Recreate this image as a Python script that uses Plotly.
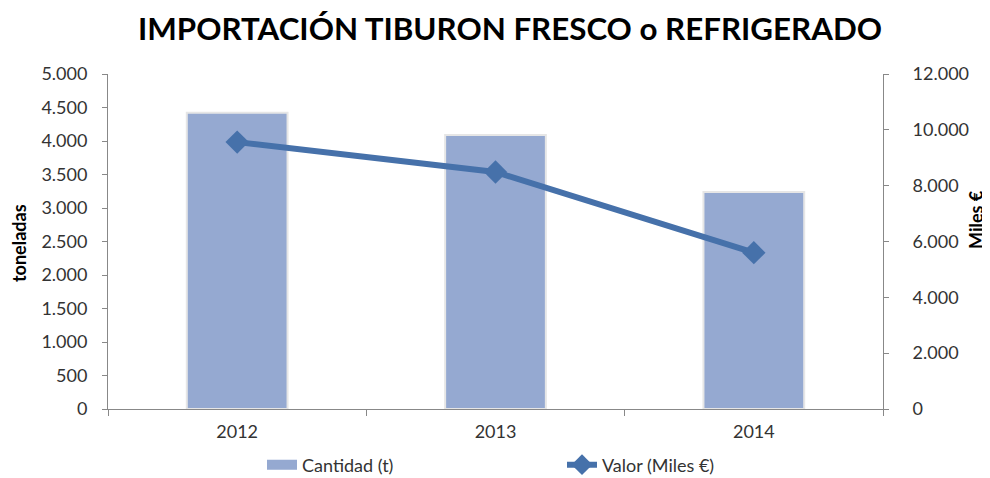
import plotly.graph_objects as go

years = ["2012", "2013", "2014"]
cantidad = [4420, 4090, 3240]
valor = [9560, 8490, 5600]
left_ticks = [0, 500, 1000, 1500, 2000, 2500, 3000, 3500, 4000, 4500, 5000]
right_ticks = [0, 2000, 4000, 6000, 8000, 10000, 12000]

FONT = "Lato"
TXT = "#333333"
OFF = 8  # page body margin
W, H = 990 - OFF, 478 - OFF
L = 108 - OFF
R = 990 - 883
PW = W - L - R


def px_x(x):
    return (x - OFF - L) / PW


def px_y(y):
    return (H - (y - OFF)) / H


BAR_COL = "#95A9D1"
LINE_COL = "#4671AA"

fig = go.Figure()
fig.add_trace(go.Bar(
    x=years, y=cantidad, name="Cantidad (t)", showlegend=False,
    marker=dict(color=BAR_COL, line=dict(color="#E6E6E6", width=2)),
    yaxis="y",
))
# legend entry for the bars (wide swatch like the reference)
fig.add_trace(go.Scatter(
    x=[None], y=[None], name="Cantidad (t)", mode="lines",
    line=dict(color=BAR_COL, width=10), yaxis="y",
))
fig.add_trace(go.Scatter(
    x=years, y=valor, name="Valor (Miles €)", mode="lines+markers",
    line=dict(color=LINE_COL, width=6),
    marker=dict(symbol="diamond", size=18, color=LINE_COL),
    yaxis="y2",
))

dom = [px_y(409), px_y(74)]
axcol = "#888888"
fig.update_layout(
    width=W, height=H,
    margin=dict(l=L, r=R, t=0, b=0, autoexpand=False),
    paper_bgcolor="white", plot_bgcolor="white",
    separators=",.",
    font=dict(family=FONT, size=18, color=TXT),
    title=dict(text="<b>IMPORTACIÓN TIBURON FRESCO o REFRIGERADO</b>",
               x=(510 - OFF) / W, xanchor="center", y=px_y(29), yanchor="middle",
               font=dict(family=FONT, size=31.3, color="black")),
    bargap=0.61,
    showlegend=True,
    legend=dict(orientation="h", x=px_x(262), xanchor="left", y=px_y(465), yanchor="middle",
                entrywidth=255, font=dict(size=18, color=TXT), traceorder="normal"),
    xaxis=dict(type="category", showline=True, linecolor=axcol, linewidth=1,
               ticks="outside", tickson="boundaries", ticklen=6, tickcolor=axcol,
               showgrid=False, automargin=False, ticklabelstandoff=6,
               tickfont=dict(size=18, color=TXT)),
    yaxis=dict(domain=dom, range=[0, 5000], tickvals=left_ticks, tickformat=",d",
               showline=True, linecolor=axcol, linewidth=1,
               ticks="outside", ticklen=5, tickcolor=axcol, automargin=False,
               showgrid=False, zeroline=False, ticklabelstandoff=11),
    yaxis2=dict(range=[0, 12000], tickvals=right_ticks, tickformat=",d",
                overlaying="y", side="right",
                showline=True, linecolor=axcol, linewidth=1, automargin=False,
                ticks="outside", ticklen=5, tickcolor=axcol,
                showgrid=False, zeroline=False, ticklabelstandoff=20),
    annotations=[
        dict(text="<b>toneladas</b>", textangle=-90, x=px_x(19), y=px_y(243),
             xref="paper", yref="paper", xanchor="center", yanchor="middle",
             showarrow=False, font=dict(size=18, color="black")),
        dict(text="<b>Miles €</b>", textangle=-90, x=px_x(976), y=px_y(220),
             xref="paper", yref="paper", xanchor="center", yanchor="middle",
             showarrow=False, font=dict(size=18, color="black")),
    ],
)
fig.write_html("out.html")
